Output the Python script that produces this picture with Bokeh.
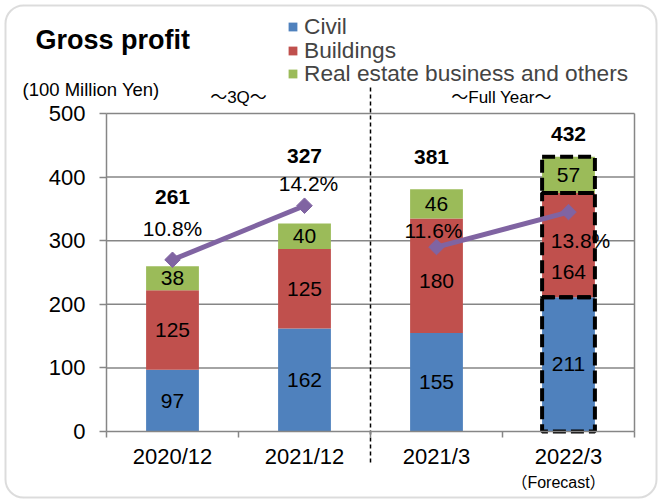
from bokeh.plotting import figure
from bokeh.models import (ColumnDataSource, Range1d, FixedTicker, Label, LabelSet,
                          Legend, LegendItem, BoxAnnotation)
from bokeh.core.properties import value
from bokeh.embed import file_html
from bokeh.resources import INLINE

# ---------------- data ----------------
categories = ["2020/12", "2021/12", "2021/3", "2022/3"]
civil = [97, 162, 155, 211]
buildings = [125, 125, 180, 164]
real_estate = [38, 40, 46, 57]
totals = [261, 327, 381, 432]
margin_pct = [10.8, 14.2, 11.6, 13.8]
series_names = ["Civil", "Buildings", "Real estate business and others"]
y_ticks = [0, 100, 200, 300, 400, 500]
pct_max = 20
q3_count = 2          # first two categories are 3Q cumulative figures
forecast_index = 3

# ---------------- style / layout ----------------
FONT = "Liberation Sans"
FONT_CJK = "'Liberation Sans', 'Noto Sans CJK JP'"
COLORS = ["#4F81BD", "#C0504D", "#9BBB59"]
LINE_COLOR = "#8064A2"
GRAY = "#868686"
W, H = 661, 500
AREA_L, AREA_R, AREA_B, AREA_T = 106, 634, 431, 113   # plot area in pixels
total_offsets = [69, 68, 32, 23]
total_xoffsets = [0, 0, -5, 0]
pct_yoffsets = [31, 22, 17, -28]
pct_xoffsets = [0, 4, -3, 12]
seg_label_shift = {(2, 1): -5, (3, 1): -27}   # (category, series) -> px
legend_left = 287
legend_row_bottoms = [460, 436, 413]          # px from canvas bottom

n = len(categories)
y_max = y_ticks[-1]
sx = (AREA_R - AREA_L) / n
sy = (AREA_B - AREA_T) / y_max


def dx(px):
    return (px - AREA_L) / sx


def dy(py):
    return (AREA_B - py) / sy


xs = [i + 0.5 for i in range(n)]
stack_keys = ["civil", "buildings", "real_estate"]
source = ColumnDataSource(dict(x=xs, civil=civil, buildings=buildings,
                               real_estate=real_estate))

p = figure(width=W, height=H, x_range=Range1d(dx(0), dx(W)),
           y_range=Range1d(dy(H), dy(0)), output_backend="svg",
           toolbar_location=None, min_border=0)
p.extra_y_ranges = {"pct": Range1d(dy(H) * pct_max / y_max, dy(0) * pct_max / y_max)}
p.outline_line_color = None
p.grid.visible = False
p.background_fill_color = "white"
p.border_fill_color = "white"

# rounded outer frame
p.add_layout(BoxAnnotation(left=dx(5), right=dx(656), top=dy(5), bottom=dy(497),
                           fill_color=None, line_color="#8c8c8c", line_width=2,
                           border_radius=18))

# gridlines (from the y ticks) and plot-area border
grid_ticks = y_ticks[1:]
p.segment(x0=[0] * len(grid_ticks), x1=[n] * len(grid_ticks), y0=grid_ticks,
          y1=grid_ticks, line_color=GRAY, line_width=1.5)
p.segment(x0=[n], x1=[n], y0=[0], y1=[y_max], line_color=GRAY, line_width=1.5)

# y axis (fixed at x=0)
ya = p.yaxis[0]
ya.fixed_location = 0
ya.bounds = (0, y_max)
ya.ticker = FixedTicker(ticks=y_ticks)
ya.axis_line_color = GRAY
ya.axis_line_width = 1.5
ya.major_tick_line_color = GRAY
ya.major_tick_line_width = 1.5
ya.major_tick_out = 7
ya.major_tick_in = 0
ya.minor_tick_line_color = None
ya.major_label_text_font = FONT
ya.major_label_text_font_size = "22px"
ya.major_label_text_color = "black"
ya.major_label_standoff = 14

# x axis (fixed at y=0)
xa = p.xaxis[0]
xa.fixed_location = 0
xa.bounds = (0, n)
xa.ticker = FixedTicker(ticks=xs, minor_ticks=list(range(n + 1)))
xa.major_label_overrides = {x: c for x, c in zip(xs, categories)}
xa.axis_line_color = GRAY
xa.axis_line_width = 1.5
xa.major_tick_line_color = None
xa.major_tick_out = 0
xa.major_tick_in = 0
xa.minor_tick_line_color = GRAY
xa.minor_tick_line_width = 1.5
xa.minor_tick_out = 6
xa.minor_tick_in = 0
xa.major_label_text_font = FONT
xa.major_label_text_font_size = "22px"
xa.major_label_text_color = "black"
xa.major_label_standoff = 6

# bars
renderers = p.vbar_stack(stack_keys, x="x", width=0.4, source=source,
                         fill_color=COLORS, line_color=None)

# forecast dashed outline
fsource = ColumnDataSource(dict(x=[xs[forecast_index]],
                                civil=[civil[forecast_index]],
                                buildings=[buildings[forecast_index]],
                                real_estate=[real_estate[forecast_index]]))
p.vbar_stack(stack_keys, x="x", width=0.4, source=fsource, fill_color=None,
             line_color="black", line_width=4, line_dash="13 5")

# segment labels
seg_x, seg_y, seg_t, seg_o = [], [], [], []
for i in range(n):
    base = 0
    for k, vals in enumerate((civil, buildings, real_estate)):
        seg_x.append(xs[i]); seg_y.append(base + vals[i] / 2); seg_t.append(str(vals[i]))
        seg_o.append(seg_label_shift.get((i, k), 0))
        base += vals[i]
p.add_layout(LabelSet(x="x", y="y", text="t", y_offset="o",
                      source=ColumnDataSource(dict(x=seg_x, y=seg_y, t=seg_t, o=seg_o)),
                      text_align="center", text_baseline="middle",
                      text_font=value(FONT), text_font_size="21px", text_color="black"))

# totals
stack_tops = [c + b + r for c, b, r in zip(civil, buildings, real_estate)]
p.add_layout(LabelSet(x="x", y="y", text="t", x_offset="xo", y_offset="yo",
                      source=ColumnDataSource(dict(x=xs, y=stack_tops,
                                                   t=[str(t) for t in totals],
                                                   xo=total_xoffsets, yo=total_offsets)),
                      text_align="center", text_baseline="middle",
                      text_font=value(FONT), text_font_size="21px",
                      text_font_style="bold", text_color="black"))

# margin line (two separate periods)
for sl in (slice(0, q3_count), slice(q3_count, n)):
    p.line(xs[sl], margin_pct[sl], y_range_name="pct", line_color=LINE_COLOR, line_width=5)
p.scatter(xs, margin_pct, y_range_name="pct", marker="square", angle=0.785398,
          size=11, fill_color=LINE_COLOR, line_color=LINE_COLOR)
p.add_layout(LabelSet(x="x", y="y", text="t", x_offset="xo", y_offset="yo",
                      y_range_name="pct",
                      source=ColumnDataSource(dict(x=xs, y=margin_pct,
                                                   t=[f"{v:.1f}%" for v in margin_pct],
                                                   xo=pct_xoffsets, yo=pct_yoffsets)),
                      text_align="center", text_baseline="middle",
                      text_font=value(FONT), text_font_size="21px", text_color="black"))

# separator between 3Q and full-year groups
p.segment(x0=[q3_count], x1=[q3_count], y0=[dy(462)], y1=[dy(87)],
          line_color="black", line_width=1.5, line_dash="4 3")


# texts
def lab(px, py, t, size, align="left", bold=False, font=FONT):
    p.add_layout(Label(x=dx(px), y=dy(py), text=t, text_font=font, text_font_size=size,
                       text_align=align, text_baseline="middle", text_color="black",
                       text_font_style="bold" if bold else "normal"))


lab(35, 39, "Gross profit", "27px", bold=True)
lab(22, 89, "(100 Million Yen)", "18.5px")
lab(238, 97, "～3Q～", "17px", align="center", font=FONT_CJK)
lab(501, 97, "～Full Year～", "17px", align="center", font=FONT_CJK)
lab(558, 482, "（Forecast）", "16px", align="center", font=FONT_CJK)

# legend: one row per series, each positioned on its own line
for name, rend, yb in zip(series_names, renderers, legend_row_bottoms):
    p.add_layout(Legend(items=[LegendItem(label=name, renderers=[rend])],
                        location=(legend_left, yb), orientation="vertical",
                        glyph_width=11, glyph_height=11, label_text_font=FONT,
                        label_text_font_size="22.7px", spacing=0, padding=0, margin=0,
                        background_fill_alpha=0, border_line_color=None,
                        label_standoff=6, label_height=20), "center")

open("out.html", "w").write(file_html(p, INLINE))
